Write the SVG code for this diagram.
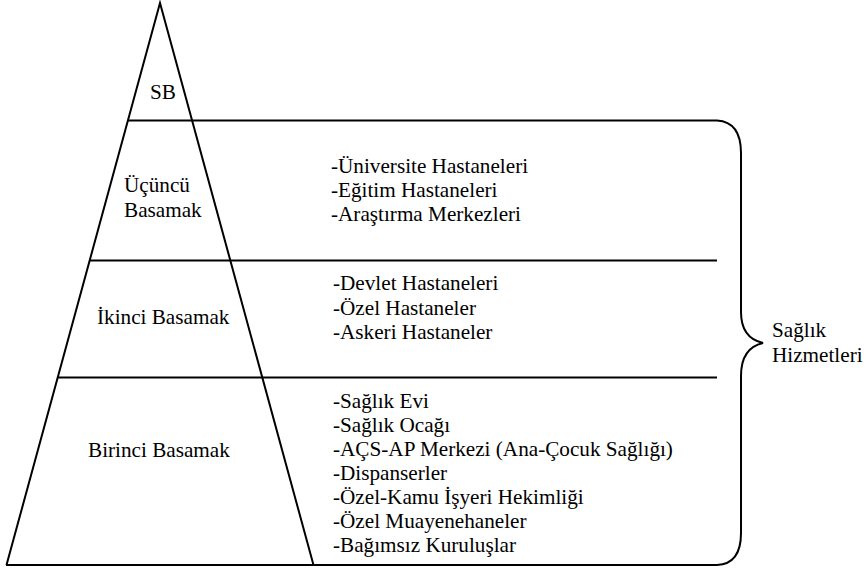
<svg xmlns="http://www.w3.org/2000/svg" width="868" height="568" viewBox="0 0 868 568">
<style>
text{font-family:"Liberation Serif","Times New Roman",serif;font-size:21.2px;fill:#000}
.ln{stroke:#000;stroke-width:2;fill:none}
</style>
<rect width="868" height="568" fill="#fff"/>
<g id="pyramid">
<polyline class="ln" points="6.5,565 160,3 313.5,565"/>
</g>
<g id="connectors">
<line class="ln" x1="128" y1="120.5" x2="717" y2="120.5"/>
<line class="ln" x1="90" y1="260.5" x2="717" y2="260.5"/>
<line class="ln" x1="58" y1="377.5" x2="717" y2="377.5"/>
<line class="ln" x1="6" y1="565" x2="717" y2="565"/>
<path class="ln" d="M717,120.5 Q741,122 741,153 L741,312 Q741,338 763,343 Q741,348 741,376 L741,533 Q741,564 717,565"/>
</g>
<g id="sb"><text x="150" y="99">SB</text></g>
<g id="ucuncu">
<text x="124" y="192">Üçüncü</text>
<text x="124" y="217">Basamak</text>
</g>
<g id="ikinci"><text x="97" y="324">İkinci Basamak</text></g>
<g id="birinci"><text x="88" y="457">Birinci Basamak</text></g>
<g id="list3">
<text x="331" y="173">-Üniversite Hastaneleri</text>
<text x="331" y="197">-Eğitim Hastaneleri</text>
<text x="331" y="221">-Araştırma Merkezleri</text>
</g>
<g id="list2">
<text x="333" y="290">-Devlet Hastaneleri</text>
<text x="333" y="315">-Özel Hastaneler</text>
<text x="333" y="339">-Askeri Hastaneler</text>
</g>
<g id="list1">
<text x="333" y="408">-Sağlık Evi</text>
<text x="333" y="432">-Sağlık Ocağı</text>
<text x="333" y="456">-AÇS-AP Merkezi (Ana-Çocuk Sağlığı)</text>
<text x="333" y="480">-Dispanserler</text>
<text x="333" y="504">-Özel-Kamu İşyeri Hekimliği</text>
<text x="333" y="528">-Özel Muayenehaneler</text>
<text x="333" y="552">-Bağımsız Kuruluşlar</text>
</g>
<g id="saglik">
<text x="772" y="337">Sağlık</text>
<text x="772" y="362">Hizmetleri</text>
</g>
</svg>
